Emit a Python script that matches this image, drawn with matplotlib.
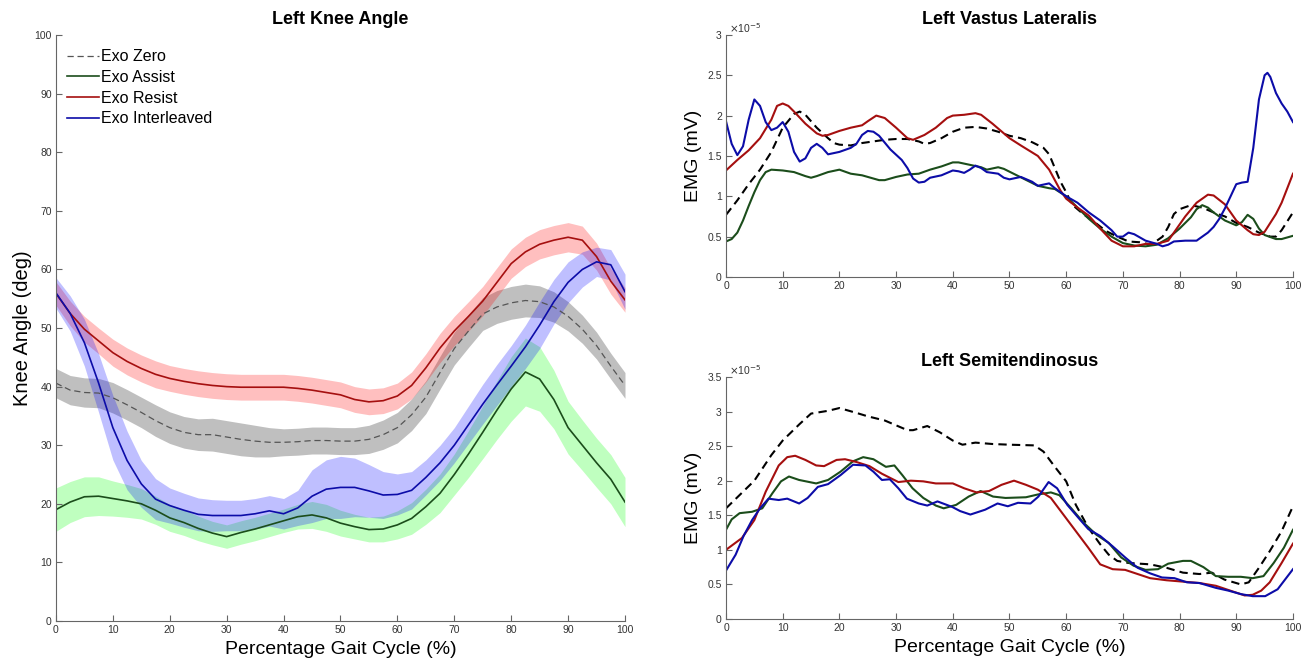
import numpy as np
import matplotlib
matplotlib.use('Agg')
import matplotlib.pyplot as plt
from matplotlib.ticker import FormatStrFormatter

plt.rcParams['font.family'] = ['Liberation Sans', 'DejaVu Sans']

# ---- Left Knee Angle (mean and half band width, deg) ----
knee_x = [0, 2.5, 5, 7.5, 10, 12.5, 15, 17.5, 20, 22.5, 25, 27.5, 30, 32.5, 35, 37.5, 40,
          42.5, 45, 47.5, 50, 52.5, 55, 57.5, 60, 62.5, 65, 67.5, 70, 72.5, 75, 77.5, 80,
          82.5, 85, 87.5, 90, 92.5, 95, 97.5, 100]

zero_mean = [40.6, 39.4, 39.0, 38.9, 38.1, 36.9, 35.6, 34.2, 33.0, 32.2, 31.8, 31.8, 31.4, 31.0,
             30.7, 30.5, 30.5, 30.6, 30.8, 30.8, 30.7, 30.7, 31.0, 31.8, 33.0, 35.2, 38.2, 42.4,
             46.5, 49.5, 52.4, 53.6, 54.3, 54.7, 54.5, 53.6, 52.0, 49.8, 47.0, 43.5, 40.2]
zero_sd = [2.5, 2.5, 2.5, 2.5, 2.6, 2.6, 2.6, 2.7, 2.7, 2.7, 2.7, 2.8, 2.8, 2.8, 2.7, 2.5, 2.3,
           2.3, 2.3, 2.3, 2.3, 2.3, 2.4, 2.5, 2.6, 2.7, 2.8, 2.8, 2.8, 2.8, 2.8, 2.8, 2.8, 2.8,
           2.7, 2.6, 2.5, 2.4, 2.3, 2.2, 2.2]

assist_mean = [19.0, 20.3, 21.2, 21.3, 20.9, 20.5, 20.0, 18.9, 17.6, 16.8, 15.8, 15.0, 14.4, 15.1,
               15.7, 16.4, 17.1, 17.8, 18.1, 17.6, 16.7, 16.1, 15.6, 15.7, 16.4, 17.5, 19.5, 21.8,
               25.0, 28.5, 32.2, 36.0, 39.6, 42.5, 41.3, 37.8, 33.0, 30.0, 27.0, 24.2, 20.3]
assist_sd = [3.7, 3.5, 3.4, 3.3, 3.0, 2.8, 2.6, 2.4, 2.3, 2.2, 2.1, 2.0, 2.0, 2.0, 2.0, 2.0, 2.0,
             2.1, 2.3, 2.3, 2.2, 2.1, 2.1, 2.2, 2.4, 2.7, 3.0, 3.3, 3.5, 4.0, 4.5, 5.0, 5.5, 5.8,
             5.5, 5.0, 4.5, 4.3, 4.2, 4.2, 4.2]

resist_mean = [55.9, 52.5, 49.8, 47.8, 45.8, 44.3, 43.1, 42.1, 41.4, 40.9, 40.5, 40.2, 40.0, 39.9,
               39.9, 39.9, 39.9, 39.7, 39.4, 39.0, 38.6, 37.8, 37.4, 37.6, 38.4, 40.2, 43.2, 46.6,
               49.5, 52.0, 54.6, 57.8, 61.0, 63.0, 64.3, 65.0, 65.5, 65.0, 62.2, 58.0, 54.8]
resist_sd = [2.0, 2.1, 2.2, 2.2, 2.3, 2.3, 2.3, 2.3, 2.2, 2.2, 2.2, 2.2, 2.2, 2.2, 2.2, 2.2, 2.2,
             2.2, 2.2, 2.2, 2.2, 2.2, 2.2, 2.2, 2.2, 2.3, 2.4, 2.5, 2.5, 2.5, 2.5, 2.5, 2.5, 2.5,
             2.5, 2.5, 2.5, 2.4, 2.3, 2.2, 2.1]

inter_mean = [56.0, 52.5, 47.5, 40.6, 33.0, 27.4, 23.4, 20.8, 19.7, 18.9, 18.2, 18.0, 18.0, 18.0,
              18.3, 18.8, 18.3, 19.3, 21.3, 22.5, 22.8, 22.8, 22.2, 21.5, 21.6, 22.3, 24.5, 27.0,
              30.0, 33.5, 37.0, 40.3, 43.5, 46.8, 50.5, 54.5, 57.8, 60.0, 61.3, 60.8, 56.2]
inter_sd = [2.6, 3.0, 4.0, 5.0, 5.5, 5.0, 4.0, 3.5, 3.0, 2.9, 2.8, 2.7, 2.6, 2.6, 2.6, 2.6, 2.6,
            3.0, 4.5, 5.0, 5.3, 5.0, 4.5, 4.0, 3.5, 3.2, 3.0, 3.0, 3.0, 3.2, 3.4, 3.5, 3.5, 3.7,
            4.0, 3.8, 3.5, 3.0, 2.5, 2.6, 3.0]

# ---- Left Vastus Lateralis EMG (x 1e-5 mV) ----
vl_zero_x = [0, 2, 4, 6, 8, 10, 12, 13, 14, 16, 18, 19, 20, 22, 24, 26, 28, 30, 32, 34, 35, 36, 38,
             40, 42, 44, 46, 48, 50, 52, 54, 56, 57, 58, 59, 60, 61, 63, 65, 67, 69, 71, 73, 75,
             77, 78, 79, 80, 82, 84, 86, 88, 90, 92, 94, 96, 97, 98, 100]
vl_zero_y = [0.77, 0.95, 1.15, 1.33, 1.55, 1.85, 2.02, 2.05, 2.01, 1.85, 1.72, 1.66, 1.64, 1.63,
             1.66, 1.68, 1.70, 1.71, 1.71, 1.68, 1.65, 1.66, 1.72, 1.80, 1.85, 1.86, 1.84, 1.80,
             1.75, 1.72, 1.67, 1.60, 1.52, 1.35, 1.18, 1.05, 0.90, 0.78, 0.68, 0.57, 0.50, 0.44,
             0.43, 0.40, 0.50, 0.62, 0.78, 0.84, 0.89, 0.86, 0.80, 0.75, 0.67, 0.62, 0.55, 0.50,
             0.50, 0.58, 0.80]

vl_assist_x = [0, 1, 2, 3, 4, 5, 6, 7, 8, 10, 12, 14, 15, 16, 18, 20, 22, 24, 26, 27, 28, 30, 32,
               34, 36, 38, 40, 41, 43, 45, 46, 48, 49, 51, 53, 55, 57, 58, 60, 62, 64, 66, 68, 70,
               72, 74, 76, 78, 80, 82, 83, 84, 85, 86, 88, 90, 91, 92, 93, 94, 95, 97, 98, 100]
vl_assist_y = [0.44, 0.47, 0.55, 0.70, 0.88, 1.05, 1.20, 1.30, 1.33, 1.32, 1.30, 1.25, 1.23, 1.25,
               1.30, 1.33, 1.28, 1.26, 1.22, 1.20, 1.20, 1.24, 1.27, 1.28, 1.33, 1.37, 1.42, 1.42,
               1.39, 1.36, 1.33, 1.36, 1.34, 1.27, 1.20, 1.13, 1.10, 1.09, 1.00, 0.86, 0.72, 0.60,
               0.50, 0.42, 0.39, 0.38, 0.40, 0.48, 0.60, 0.74, 0.84, 0.89, 0.86, 0.80, 0.70, 0.64,
               0.68, 0.77, 0.72, 0.60, 0.52, 0.47, 0.47, 0.51]

vl_resist_x = [0, 2, 4, 6, 8, 9, 10, 11, 12, 14, 16, 17, 18, 20, 22, 24, 25, 26.5, 28, 30, 32, 33,
               35, 37, 39, 40, 42, 44, 45, 47, 49, 50, 52, 55, 57, 58, 59, 60, 62, 64, 66, 68, 70,
               72, 74, 76, 78, 79, 81, 83, 85, 86, 88, 90, 92, 93, 94, 95, 97, 98, 100]
vl_resist_y = [1.32, 1.45, 1.57, 1.72, 1.95, 2.12, 2.15, 2.12, 2.05, 1.90, 1.78, 1.75, 1.76, 1.81,
               1.85, 1.88, 1.93, 2.00, 1.97, 1.85, 1.72, 1.70, 1.76, 1.85, 1.97, 2.00, 2.01, 2.03,
               2.01, 1.90, 1.78, 1.72, 1.63, 1.50, 1.33, 1.20, 1.07, 0.97, 0.86, 0.76, 0.60, 0.45,
               0.38, 0.38, 0.41, 0.41, 0.45, 0.55, 0.75, 0.92, 1.02, 1.01, 0.90, 0.70, 0.58, 0.53,
               0.52, 0.56, 0.78, 0.92, 1.28]

vl_inter_x = [0, 1, 2, 3, 4, 5, 6, 7, 8, 9, 10, 11, 12, 13, 14, 15, 16, 17, 18, 20, 22, 23, 24, 25,
              26, 27, 29, 31, 32, 33, 34, 35, 36, 38, 40, 41, 42, 43, 44, 45, 46, 48, 49, 50, 52,
              54, 55, 57, 58, 60, 62, 64, 66, 68, 69, 70, 71, 72, 74, 76, 77, 78, 79, 81, 83, 85,
              86, 87, 88, 89, 90, 91, 92, 93, 94, 95, 95.5, 96, 97, 98, 99, 100]
vl_inter_y = [1.93, 1.65, 1.51, 1.62, 1.95, 2.20, 2.12, 1.92, 1.82, 1.85, 1.92, 1.80, 1.55, 1.43,
              1.47, 1.60, 1.65, 1.60, 1.52, 1.55, 1.60, 1.65, 1.76, 1.81, 1.80, 1.75, 1.58, 1.45,
              1.35, 1.22, 1.17, 1.18, 1.23, 1.26, 1.32, 1.31, 1.29, 1.33, 1.38, 1.35, 1.30, 1.28,
              1.23, 1.21, 1.24, 1.18, 1.13, 1.16, 1.10, 1.00, 0.92, 0.80, 0.70, 0.58, 0.50, 0.50,
              0.55, 0.53, 0.45, 0.41, 0.38, 0.40, 0.44, 0.45, 0.45, 0.55, 0.62, 0.72, 0.85, 1.00,
              1.15, 1.17, 1.18, 1.60, 2.20, 2.50, 2.53, 2.48, 2.28, 2.15, 2.05, 1.92]

# ---- Left Semitendinosus EMG (x 1e-5 mV) ----
st_zero_x = [0, 5, 8, 10, 13, 15, 18, 20, 23, 25, 28, 30, 32, 33, 35.5, 37.7, 40, 41.7, 44, 47,
             50, 54.4, 56, 58, 60, 61.7, 63.9, 66, 67.5, 69, 71, 74.8, 77.7, 80.6, 83.5, 85.7,
             87.9, 90.8, 92.2, 94, 95.9, 98, 100]
st_zero_y = [1.60, 2.00, 2.37, 2.58, 2.82, 2.97, 3.01, 3.05, 2.98, 2.93, 2.87, 2.80, 2.73, 2.73,
             2.79, 2.70, 2.58, 2.52, 2.55, 2.53, 2.52, 2.51, 2.42, 2.20, 1.99, 1.65, 1.32, 1.08,
             0.93, 0.84, 0.81, 0.79, 0.74, 0.67, 0.65, 0.67, 0.57, 0.50, 0.53, 0.74, 0.98, 1.27,
             1.63]

st_assist_x = [0, 1, 2.4, 4.6, 6.4, 8.2, 9.7, 11.1, 12.9, 15.9, 18, 20.2, 22.4, 24.2, 26, 28.2,
               29.7, 31.1, 32.9, 34.8, 37, 38.4, 40.6, 42.8, 44.9, 47.1, 49.3, 52.9, 55, 57.3,
               58.8, 60.9, 63.1, 65.3, 67.5, 69.7, 71.9, 74, 76.2, 78, 80.6, 82, 84.2, 86.4, 88.6,
               90.8, 92.9, 94.8, 96.6, 98.4, 100]
st_assist_y = [1.29, 1.44, 1.53, 1.55, 1.60, 1.82, 1.99, 2.06, 2.01, 1.96, 2.01, 2.13, 2.28, 2.34,
               2.31, 2.20, 2.22, 2.08, 1.89, 1.75, 1.64, 1.60, 1.65, 1.77, 1.85, 1.77, 1.75, 1.76,
               1.80, 1.83, 1.79, 1.60, 1.39, 1.22, 1.10, 0.89, 0.77, 0.71, 0.72, 0.80, 0.84, 0.84,
               0.75, 0.62, 0.61, 0.61, 0.59, 0.62, 0.81, 1.03, 1.29]

st_resist_x = [0, 2.8, 5, 7, 9.3, 10.8, 12.2, 14, 15.9, 17.3, 19.5, 21, 23, 25.3, 27.5, 30.4, 32.6,
               34.8, 37, 40, 42, 44.2, 46.4, 48.6, 50.8, 52.9, 55, 57.3, 59.5, 61.7, 63.9, 66,
               68.2, 70.4, 72.6, 74.8, 77.7, 80.6, 83.5, 86.4, 89.3, 91.5, 92.9, 94.4, 95.9, 98,
               100]
st_resist_y = [1.00, 1.17, 1.43, 1.84, 2.22, 2.34, 2.36, 2.30, 2.22, 2.21, 2.30, 2.31, 2.27, 2.21,
               2.10, 1.98, 2.00, 1.99, 1.96, 1.96, 1.89, 1.83, 1.85, 1.94, 2.00, 1.94, 1.87, 1.75,
               1.51, 1.27, 1.03, 0.79, 0.72, 0.71, 0.65, 0.59, 0.56, 0.54, 0.52, 0.48, 0.40, 0.34,
               0.35, 0.41, 0.53, 0.81, 1.09]

st_inter_x = [0, 1.7, 3.1, 4.6, 6, 7.5, 9.3, 10.8, 12.9, 14.4, 16.2, 18, 20.2, 22.4, 24.6, 26,
              27.5, 28.9, 30.4, 31.9, 34, 35.5, 37.3, 39.9, 41.3, 43.1, 45.7, 47.9, 49.7, 51.5,
              53.7, 55.1, 56.9, 58.4, 60.2, 62.4, 63.9, 66, 68.2, 70.4, 72.6, 74.8, 76.9, 79.1,
              81.3, 83.5, 86.4, 88.6, 90.8, 92.9, 95.1, 97.3, 100]
st_inter_y = [0.70, 0.93, 1.20, 1.43, 1.60, 1.74, 1.72, 1.74, 1.67, 1.75, 1.91, 1.95, 2.08, 2.23,
              2.22, 2.13, 2.01, 2.02, 1.89, 1.74, 1.67, 1.64, 1.70, 1.62, 1.56, 1.51, 1.58, 1.67,
              1.63, 1.68, 1.67, 1.77, 1.98, 1.89, 1.65, 1.44, 1.30, 1.20, 1.05, 0.89, 0.74, 0.66,
              0.60, 0.59, 0.53, 0.52, 0.45, 0.41, 0.36, 0.33, 0.33, 0.43, 0.72]

labels = ['Exo Zero', 'Exo Assist', 'Exo Resist', 'Exo Interleaved']
line_colors = ['#3a3a3a', '#1b4d1b', '#a50f0f', '#0c0ca8']
band_colors = ['#000000', '#00ff00', '#ff0000', '#0000ff']
axis_col = '#666666'
tick_col = '#333333'


def style_axes(ax):
    for s in ['top', 'right']:
        ax.spines[s].set_visible(False)
    for s in ['left', 'bottom']:
        ax.spines[s].set_color(axis_col)
        ax.spines[s].set_linewidth(0.8)
    ax.tick_params(direction='in', length=4, width=0.8, color=axis_col,
                   labelsize=7.5, labelcolor=tick_col, pad=3)
    ax.set_xlim(0, 100)
    ax.set_xticks(np.arange(0, 101, 10))


fig = plt.figure(figsize=(13.1, 6.65), dpi=100)

# knee angle
ax1 = fig.add_axes([0.0427, 0.0662, 0.4344, 0.881])
means = [zero_mean, assist_mean, resist_mean, inter_mean]
sds = [zero_sd, assist_sd, resist_sd, inter_sd]
for m, s, bc in zip(means, sds, band_colors):
    m = np.array(m)
    s = np.array(s)
    ax1.fill_between(knee_x, m - s, m + s, color=bc, alpha=0.25, linewidth=0)
for i, (m, lc, lab) in enumerate(zip(means, line_colors, labels)):
    if i == 0:
        ax1.plot(knee_x, m, color='#555555', lw=0.9, ls=(0, (5, 3)), label=lab)
    else:
        ax1.plot(knee_x, m, color=lc, lw=1.2, label=lab)
style_axes(ax1)
ax1.set_ylim(0, 100)
ax1.set_yticks(np.arange(0, 101, 10))
ax1.set_title('Left Knee Angle', fontsize=13, fontweight='bold', pad=8)
ax1.set_xlabel('Percentage Gait Cycle (%)', fontsize=14, labelpad=4)
ax1.set_ylabel('Knee Angle (deg)', fontsize=14.5, labelpad=2)
ax1.legend(loc='upper left', frameon=False, fontsize=11.5, handlelength=2.0,
           handletextpad=0.1, labelspacing=0.36, borderaxespad=0.3,
           bbox_to_anchor=(0.0, 0.995))

# EMG panels
panels = [
    ([0.5542, 0.5835, 0.4328, 0.364], 'Left Vastus Lateralis', 3.0, 0.5,
     [(vl_zero_x, vl_zero_y), (vl_assist_x, vl_assist_y),
      (vl_resist_x, vl_resist_y), (vl_inter_x, vl_inter_y)], False),
    ([0.5542, 0.0692, 0.4328, 0.364], 'Left Semitendinosus', 3.5, 0.5,
     [(st_zero_x, st_zero_y), (st_assist_x, st_assist_y),
      (st_resist_x, st_resist_y), (st_inter_x, st_inter_y)], True),
]
for rect, title, ymax, ystep, series, show_xlabel in panels:
    ax = fig.add_axes(rect)
    for i, ((xs, ys), lc) in enumerate(zip(series, line_colors)):
        if i == 0:
            ax.plot(xs, ys, color='black', lw=1.5, ls=(0, (4, 2.5)))
        else:
            ax.plot(xs, ys, color=lc, lw=1.5)
    style_axes(ax)
    ax.set_ylim(0, ymax)
    ax.set_yticks(np.arange(0, ymax + 0.01, ystep))
    ax.yaxis.set_major_formatter(FormatStrFormatter('%g'))
    ax.set_title(title, fontsize=13, fontweight='bold', pad=8)
    ax.set_ylabel('EMG (mV)', fontsize=14, labelpad=4)
    ax.text(0.005, 1.0, r'$\times$10$^{-5}$', transform=ax.transAxes,
            fontsize=7.5, color=tick_col, ha='left', va='bottom')
    if show_xlabel:
        ax.set_xlabel('Percentage Gait Cycle (%)', fontsize=14, labelpad=4)

fig.savefig('out.png', dpi=100)
